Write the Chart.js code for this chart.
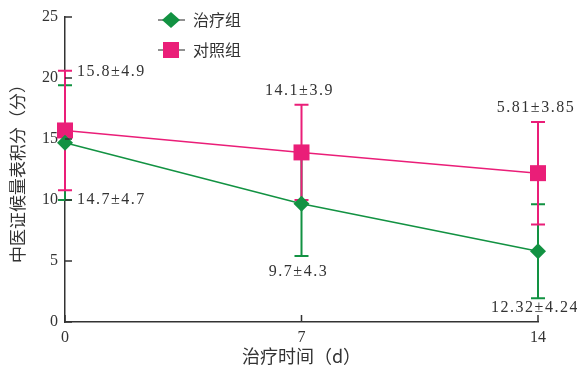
<!DOCTYPE html>
<html>
<head>
<meta charset="utf-8">
<script src="https://cdn.jsdelivr.net/npm/chart.js@4.4.1/dist/chart.umd.min.js"></script>
<style>
html, body { margin: 0; padding: 0; background: #fff; }
#wrap { width: 577px; height: 370px; }
</style>
</head>
<body>
<div id="wrap"><canvas id="chart"></canvas></div>
<script>
// values
var days = [0, 7, 14];
var xTicks = [0, 7, 14];
var yTicks = [0, 5, 10, 15, 20, 25];
var seriesNames = ["治疗组", "对照组"];
var treatMean = [14.7, 9.7, 5.8];
var treatSd = [4.7, 4.3, 3.85];
var ctrlMean = [15.7, 13.9, 12.2];
var ctrlSd = [4.9, 3.9, 4.2];
var treatNotes = ["14.7±4.7", "9.7±4.3", "12.32±4.24"];
var ctrlNotes = ["15.8±4.9", "14.1±3.9", "5.81±3.85"];

// where each note sits (style only)
var treatPlace = ["right", "below", "below"];
var ctrlPlace = ["right", "above", "above"];

var green = "rgb(18,146,66)";
var pink = "rgb(234,30,120)";
var ink = "#333";
var serif = "'Liberation Serif', 'Noto Sans CJK SC', serif";
var cjk = "'Noto Sans CJK SC', 'Liberation Serif', sans-serif";

function pts(xs, ys) {
  return xs.map(function (x, i) { return { x: x, y: ys[i] }; });
}

var errorBars = {
  id: "errorBars",
  beforeDatasetsDraw: function (chart) {
    var xs = chart.scales.x, ys = chart.scales.y, c = chart.ctx;
    var sets = [[treatMean, treatSd, green], [ctrlMean, ctrlSd, pink]];
    c.save();
    c.lineWidth = 2;
    sets.forEach(function (s) {
      c.strokeStyle = s[2];
      days.forEach(function (d, i) {
        var px = xs.getPixelForValue(d);
        var top = ys.getPixelForValue(s[0][i] + s[1][i]);
        var bot = ys.getPixelForValue(s[0][i] - s[1][i]);
        c.beginPath();
        c.moveTo(px, top); c.lineTo(px, bot);
        c.moveTo(px - 7, top); c.lineTo(px + 7, top);
        c.moveTo(px - 7, bot); c.lineTo(px + 7, bot);
        c.stroke();
      });
    });
    c.restore();
  },
  afterDatasetsDraw: function (chart) {
    var xs = chart.scales.x, ys = chart.scales.y, c = chart.ctx;
    c.save();
    c.fillStyle = ink;
    c.font = "16px " + serif;
    c.textBaseline = "middle";
    if ("letterSpacing" in c) c.letterSpacing = "1.5px";
    function note(mean, sd, texts, place) {
      days.forEach(function (d, i) {
        var px = xs.getPixelForValue(d);
        var top = ys.getPixelForValue(mean[i] + sd[i]);
        var bot = ys.getPixelForValue(mean[i] - sd[i]);
        var p = place[i];
        if (p === "right") {
          c.textAlign = "left";
          c.fillText(texts[i], px + 12, mean === ctrlMean ? top + 1 : bot);
        } else if (p === "above") {
          c.textAlign = "center";
          c.fillText(texts[i], px - 2, top - 14);
        } else {
          c.textAlign = "center";
          c.fillText(texts[i], px - 3, bot + (i === 2 ? 10 : 16));
        }
      });
    }
    note(treatMean, treatSd, treatNotes, treatPlace);
    note(ctrlMean, ctrlSd, ctrlNotes, ctrlPlace);
    c.restore();
  },
  afterDraw: function (chart) {
    var xs = chart.scales.x, ys = chart.scales.y, c = chart.ctx;
    c.save();
    c.strokeStyle = ink;
    c.lineWidth = 1.5;
    c.beginPath();
    xTicks.forEach(function (t) {
      var px = xs.getPixelForValue(t);
      c.moveTo(px, ys.bottom); c.lineTo(px, ys.bottom - 7);
    });
    yTicks.forEach(function (t) {
      var py = ys.getPixelForValue(t);
      c.moveTo(xs.left, py); c.lineTo(xs.left + 7, py);
    });
    c.stroke();

    // legend: line + marker + label
    var colors = [green, pink];
    chart.data.datasets.forEach(function (ds, i) {
      var y = 20 + i * 30;
      c.strokeStyle = "#222";
      c.lineWidth = 1;
      c.beginPath();
      c.moveTo(158, y); c.lineTo(185, y);
      c.stroke();
      c.fillStyle = colors[i];
      c.beginPath();
      if (i === 0) {
        c.moveTo(171, y - 8); c.lineTo(180, y); c.lineTo(171, y + 8); c.lineTo(162, y);
        c.closePath();
      } else {
        c.rect(163, y - 8, 16, 16);
      }
      c.fill();
      c.fillStyle = ink;
      c.font = "16px " + cjk;
      c.textAlign = "left";
      c.textBaseline = "middle";
      c.fillText(ds.label, 193, y);
    });
    c.restore();
  }
};

var chart = new Chart("chart", {
  type: "line",
  data: {
    datasets: [
      {
        label: seriesNames[0],
        data: pts(days, treatMean),
        borderColor: green,
        backgroundColor: green,
        borderWidth: 1.5,
        pointStyle: "rectRot",
        pointRadius: 8,
        pointHoverRadius: 8,
        pointBorderWidth: 0,
        clip: false
      },
      {
        label: seriesNames[1],
        data: pts(days, ctrlMean),
        borderColor: pink,
        backgroundColor: pink,
        borderWidth: 1.5,
        pointStyle: "rect",
        pointRadius: 11.3,
        pointHoverRadius: 11.3,
        pointBorderWidth: 0,
        clip: false
      }
    ]
  },
  options: {
    responsive: true,
    maintainAspectRatio: false,
    animation: false,
    layout: { padding: { top: 17, right: 39, left: 0, bottom: 0 } },
    plugins: {
      legend: { display: false },
      tooltip: { enabled: false }
    },
    scales: {
      x: {
        type: "linear",
        min: 0,
        max: 14,
        afterBuildTicks: function (s) { s.ticks = xTicks.map(function (v) { return { value: v }; }); },
        afterFit: function (s) { s.height = 48; },
        grid: { display: false, drawTicks: false },
        border: { display: true, color: ink, width: 1.5 },
        ticks: { color: ink, font: { family: serif, size: 16 }, padding: 6, maxRotation: 0 },
        title: {
          display: true,
          text: "治疗时间（d）",
          color: ink,
          font: { family: cjk, size: 18 },
          padding: { top: 4, bottom: 3 }
        }
      },
      y: {
        min: 0,
        max: 25,
        afterBuildTicks: function (s) { s.ticks = yTicks.map(function (v) { return { value: v }; }); },
        afterFit: function (s) { s.width = 65; },
        grid: { display: false, drawTicks: false },
        border: { display: true, color: ink, width: 1.5 },
        ticks: { color: ink, font: { family: serif, size: 16 }, padding: 7 },
        title: {
          display: true,
          text: "中医证候量表积分（分）",
          color: ink,
          font: { family: cjk, size: 17 },
          padding: { top: 7, bottom: 7 }
        }
      }
    }
  },
  plugins: [errorBars]
});
</script>
</body>
</html>
